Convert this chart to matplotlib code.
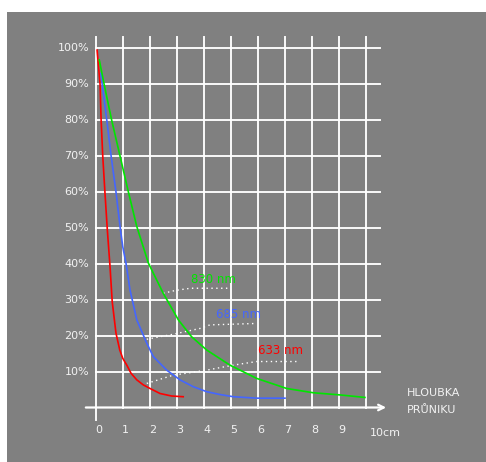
import matplotlib.pyplot as plt
from matplotlib.patches import Rectangle

# hloubka pruniku [cm] a zbyvajici intenzita [%]
red_x = [0.04, 0.15, 0.19, 0.25, 0.33, 0.42, 0.52, 0.60, 0.74, 0.88, 0.99, 1.14, 1.30, 1.51, 1.75, 2.00, 2.37, 2.80, 3.23]
red_y = [99.5, 90.0, 80.0, 70.0, 60.0, 49.4, 39.2, 29.5, 20.7, 16.0, 13.7, 11.8, 9.5, 7.7, 6.3, 5.3, 3.9, 3.2, 3.0]

blue_x = [0.18, 0.23, 0.40, 0.56, 0.74, 0.89, 0.99, 1.11, 1.26, 1.51, 1.88, 2.12, 2.62, 3.11, 3.60, 4.10, 4.60, 5.09, 5.95, 7.00]
blue_y = [93.0, 90.0, 80.0, 70.0, 60.0, 50.4, 44.8, 40.2, 32.7, 24.4, 17.9, 14.2, 10.4, 7.7, 5.8, 4.4, 3.6, 3.0, 2.6, 2.6]

green_x = [0.12, 0.30, 0.58, 0.89, 1.20, 1.51, 1.94, 2.49, 3.05, 3.54, 4.10, 4.96, 5.95, 7.06, 8.05, 9.04, 9.96]
green_y = [96.8, 90.0, 80.0, 70.0, 60.0, 50.4, 40.2, 31.8, 24.4, 19.7, 16.0, 11.8, 8.1, 5.3, 4.1, 3.5, 2.8]

# popisky vlnovych delek a jejich teckovane odkazy
labels = ["830 nm", "685 nm", "633 nm"]
label_x = [3.5, 4.45, 6.0]
label_y = [35.5, 25.8, 15.8]
lead_x = [[2.49, 2.95, 3.5, 4.1, 4.96],
          [1.88, 2.86, 3.85, 4.22, 5.95],
          [1.88, 2.86, 4.1, 5.09, 5.95, 7.43]]
lead_y = [[31.8, 32.6, 33.2, 33.2, 33.2],
          [19.0, 20.4, 22.0, 23.0, 23.4],
          [6.7, 9.0, 10.4, 11.8, 12.8, 12.8]]

x_ticks = list(range(10))
y_ticks = list(range(10, 101, 10))

W, H = 486, 462
fig = plt.figure(figsize=(W / 100, H / 100), dpi=100)
fig.patch.set_facecolor("white")
fig.patches.append(Rectangle((7 / W, 0), 1 - 7 / W, 1 - 12 / H, transform=fig.transFigure,
                             facecolor="#808080", edgecolor="none", zorder=-10))

# osy: 0..10 cm -> px 96..366, 0..100 % -> py 407.5..48.3
x0, x1 = 96, 366
y0, y1 = 407.5, 48.3
ax = fig.add_axes([x0 / W, 1 - y0 / H, (x1 - x0) / W, (y0 - y1) / H])
ax.set_xlim(0, 10)
ax.set_ylim(0, 100)
ax.axis("off")

grid_kw = dict(color="white", lw=1.4, clip_on=False, zorder=1, alpha=0.95)
for t in x_ticks + [10]:
    bottom = -3.5 if t == 0 else 0
    ax.plot([t, t], [bottom, 103.2], **grid_kw)
for v in y_ticks:
    ax.plot([0, 10.52], [v, v], **grid_kw)

ax.annotate("", xy=(10.85, 0), xytext=(-0.48, 0),
            arrowprops=dict(arrowstyle="->", color="white", lw=1.6, mutation_scale=10),
            annotation_clip=False, zorder=2)

txt = dict(color="#f2f2f2", fontsize=8, family="DejaVu Sans")
for v in y_ticks:
    ax.text(-0.26, v, f"{v}%", ha="right", va="center", **txt)
for t in x_ticks:
    ax.text(t + 0.1, -6.3, str(t), ha="center", va="center", **txt)
ax.text(10.7, -7.0, "10cm", ha="center", va="center", **txt)
ax.text(11.5, 4.0, "HLOUBKA", ha="left", va="center", **txt)
ax.text(11.5, -0.8, "PRŮNIKU", ha="left", va="center", **txt)

for lx, ly in zip(lead_x, lead_y):
    ax.plot(lx, ly, color="white", lw=1.0, ls=(0, (1, 2.5)), zorder=2)

colors = ["#00e600", "#4466ff", "#ff0000"]
ax.plot(red_x, red_y, color=colors[2], lw=1.2, zorder=3)
ax.plot(blue_x, blue_y, color=colors[1], lw=1.2, zorder=3)
ax.plot(green_x, green_y, color=colors[0], lw=1.2, zorder=3)

for s, lx, ly, c in zip(labels, label_x, label_y, colors):
    ax.text(lx, ly, s, color=c, fontsize=8.5, ha="left", va="center")

fig.savefig("out.png", dpi=100, facecolor=fig.get_facecolor())
